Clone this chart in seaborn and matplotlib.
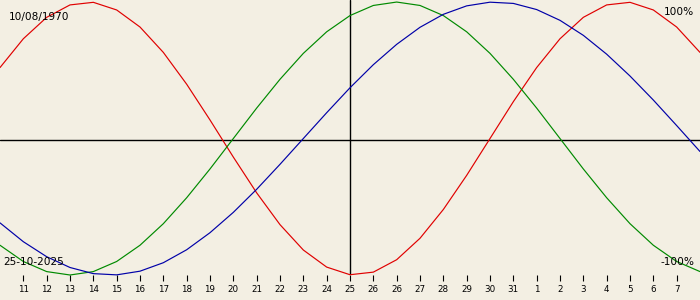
import numpy as np
import pandas as pd
import matplotlib
matplotlib.use("Agg")
import matplotlib.pyplot as plt
import seaborn as sns

# Day positions (index 0 = first tick "11"), -1..29 spans the full width
day_index = list(range(-1, 30))
tick_labels = ["11", "12", "13", "14", "15", "16", "17", "18", "19", "20",
               "21", "22", "23", "24", "25", "26", "26", "27", "28", "29",
               "30", "31", "1", "2", "3", "4", "5", "6", "7"]

physical = [0.52, 0.731, 0.888, 0.979, 0.998, 0.942, 0.817, 0.631, 0.398, 0.136,
            -0.136, -0.398, -0.631, -0.817, -0.942, -0.998, -0.979, -0.888, -0.731, -0.52,
            -0.27, 0.0, 0.27, 0.52, 0.731, 0.888, 0.979, 0.998, 0.942, 0.817, 0.631]
emotional = [-0.782, -0.901, -0.975, -1.0, -0.975, -0.901, -0.782, -0.624, -0.434, -0.223,
             0.0, 0.223, 0.434, 0.624, 0.782, 0.901, 0.975, 1.0, 0.975, 0.901,
             0.782, 0.624, 0.434, 0.223, 0.0, -0.223, -0.434, -0.624, -0.782, -0.901, -0.975]
intellectual = [-0.618, -0.756, -0.866, -0.945, -0.990, -0.999, -0.972, -0.910, -0.815, -0.690,
                -0.541, -0.372, -0.189, 0.0, 0.189, 0.372, 0.541, 0.690, 0.815, 0.910,
                0.972, 0.999, 0.990, 0.945, 0.866, 0.756, 0.618, 0.458, 0.282, 0.095, -0.095]

today_index = 14
birth_label = "10/08/1970"
today_label = "25-10-2025"

df = pd.DataFrame({
    "day": day_index * 3,
    "value": physical + emotional + intellectual,
    "cycle": ["physical"] * len(day_index) + ["emotional"] * len(day_index)
             + ["intellectual"] * len(day_index),
})

bg = "#f3efe3"
palette = {"physical": "#e00000", "emotional": "#008a00", "intellectual": "#0000a8"}

sns.set_style("white")
plt.rcParams["font.family"] = ["DejaVu Sans"]
plt.rcParams["text.color"] = "black"

fig = plt.figure(figsize=(7, 3), dpi=100, facecolor=bg)
ax = fig.add_axes([0, 25 / 300, 1, 275 / 300])
ax.set_facecolor(bg)

ax.axhline(-0.01, color="black", lw=1.0, zorder=1)
ax.axvline(today_index, color="black", lw=1.0, zorder=1)

sns.lineplot(data=df, x="day", y="value", hue="cycle", palette=palette,
             ax=ax, lw=0.85, legend=False, clip_on=False, zorder=3)

ax.set_xlim(-1, 29)
ax.set_ylim(-1.0, 1.015)
for s in ax.spines.values():
    s.set_visible(False)
ax.set_xticks(range(len(tick_labels)))
ax.set_xticklabels(tick_labels, fontsize=6.3, color="black")
ax.set_yticks([])
ax.tick_params(axis="x", direction="out", length=4.5, width=0.8, pad=2.5,
               colors="black", bottom=True)
ax.set_xlabel("")
ax.set_ylabel("")

fig.text(9 / 700, 1 - 17 / 300, birth_label, fontsize=7.6, ha="left", va="center", color="black")
fig.text(694 / 700, 1 - 12 / 300, "100%", fontsize=7.6, ha="right", va="center", color="black")
fig.text(3 / 700, 1 - 262 / 300, today_label, fontsize=7.6, ha="left", va="center", color="black")
fig.text(694 / 700, 1 - 262 / 300, "-100%", fontsize=7.6, ha="right", va="center", color="black")

fig.savefig("out.png", dpi=100, facecolor=bg)
